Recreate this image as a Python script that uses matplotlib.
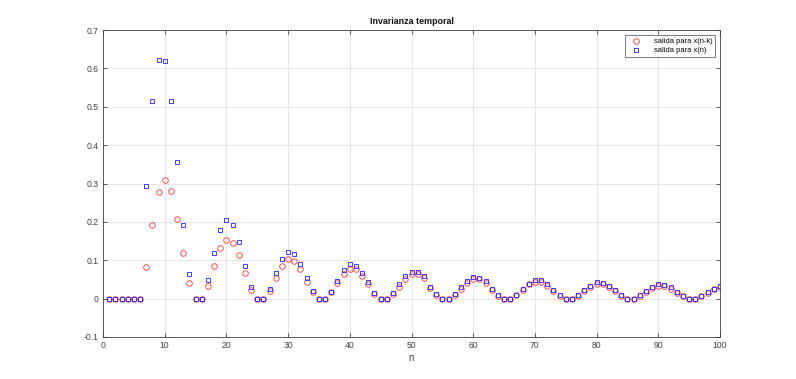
import numpy as np
import matplotlib
matplotlib.use("Agg")
import matplotlib.pyplot as plt

n = np.arange(1, 101)

# salida para x(n) (blue squares)
y_xn = [0, 0, 0, 0, 0, 0, 0.293, 0.514, 0.623, 0.618,
        0.514, 0.356, 0.192, 0.064, 0, 0, 0.049, 0.118, 0.178, 0.206,
        0.193, 0.147, 0.084, 0.030, 0, 0, 0.026, 0.066, 0.103, 0.122,
        0.117, 0.091, 0.055, 0.020, 0, 0, 0.018, 0.046, 0.074, 0.089,
        0.086, 0.067, 0.043, 0.015, 0, 0, 0.015, 0.037, 0.058, 0.069,
        0.070, 0.058, 0.031, 0.012, 0, 0, 0.011, 0.030, 0.045, 0.056,
        0.055, 0.045, 0.025, 0.009, 0, 0, 0.010, 0.024, 0.039, 0.048,
        0.048, 0.037, 0.023, 0.009, 0, 0, 0.009, 0.022, 0.033, 0.043,
        0.042, 0.033, 0.023, 0.009, 0, 0, 0.009, 0.019, 0.030, 0.037,
        0.036, 0.029, 0.017, 0.007, 0, 0, 0.007, 0.017, 0.026, 0.032]

# salida para x(n-k) (red circles)
y_xnk = [0, 0, 0, 0, 0, 0, 0.083, 0.193, 0.277, 0.308,
         0.280, 0.207, 0.118, 0.041, 0, 0, 0.033, 0.085, 0.131, 0.154,
         0.146, 0.113, 0.066, 0.023, 0, 0, 0.020, 0.054, 0.085, 0.102,
         0.098, 0.076, 0.044, 0.017, 0, 0, 0.016, 0.040, 0.064, 0.077,
         0.076, 0.059, 0.037, 0.013, 0, 0, 0.013, 0.031, 0.052, 0.064,
         0.063, 0.054, 0.028, 0.010, 0, 0, 0.010, 0.026, 0.041, 0.051,
         0.050, 0.042, 0.022, 0.008, 0, 0, 0.009, 0.022, 0.037, 0.044,
         0.044, 0.034, 0.021, 0.007, 0, 0, 0.008, 0.019, 0.030, 0.039,
         0.038, 0.030, 0.020, 0.008, 0, 0, 0.008, 0.017, 0.027, 0.034,
         0.033, 0.026, 0.015, 0.006, 0, 0, 0.006, 0.015, 0.024, 0.030]

x_ticks = list(range(0, 101, 10))
y_ticks = [-0.1, 0, 0.1, 0.2, 0.3, 0.4, 0.5, 0.6, 0.7]
y_tick_labels = ["-0.1", "0", "0.1", "0.2", "0.3", "0.4", "0.5", "0.6", "0.7"]

plt.rcParams['font.family'] = ['Liberation Sans', 'DejaVu Sans']

fig = plt.figure(figsize=(7.96, 3.79), dpi=100)
ax = fig.add_axes([103 / 796, 1 - 337 / 379, (720 - 103) / 796, (337 - 30) / 379])

ax.plot(n, y_xnk, linestyle='none', marker='o', markersize=4.0,
        markerfacecolor='none', markeredgecolor='#ff3030', markeredgewidth=0.6,
        label='salida para x(n-k)')
ax.plot(n, y_xn, linestyle='none', marker='s', markersize=3.4,
        markerfacecolor='none', markeredgecolor='#2020ff', markeredgewidth=0.6,
        label='salida para x(n)')

ax.set_xlim(0, 100)
ax.set_ylim(-0.1, 0.7)
ax.set_xticks(x_ticks)
ax.set_yticks(y_ticks)
ax.set_yticklabels(y_tick_labels)
ax.grid(True, color='#e6e6e6', linewidth=0.7)
ax.set_axisbelow(True)

for s in ax.spines.values():
    s.set_color('#404040')
    s.set_linewidth(0.6)
ax.tick_params(direction='in', length=3, width=0.6, colors='#404040',
               labelsize=6.2, top=True, right=True, pad=3)

ax.set_title('Invarianza temporal', fontsize=6.4, fontweight='bold', color='#111111', pad=4)
ax.set_xlabel('n', fontsize=7, color='#404040', labelpad=2)

leg = ax.legend(loc='upper right', fontsize=5.4, frameon=True, fancybox=False,
                edgecolor='#404040', borderpad=0.35, handletextpad=1.4,
                borderaxespad=0.7, labelspacing=0.25, handlelength=2.0)
leg.get_frame().set_linewidth(0.6)

fig.savefig('out.png', dpi=100, facecolor='white')
